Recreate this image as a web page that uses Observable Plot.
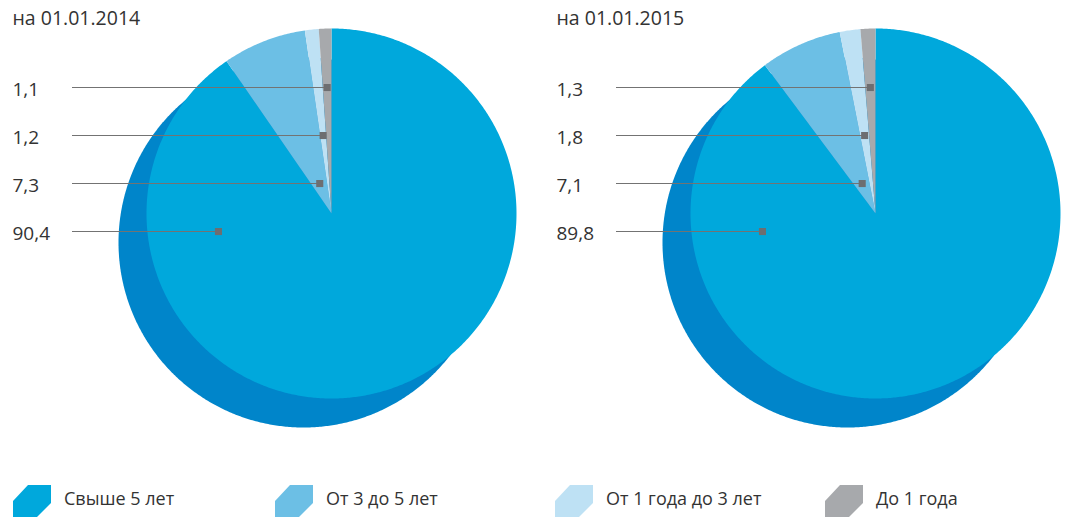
<!DOCTYPE html>
<html><head><meta charset="utf-8">
<script src="https://cdn.jsdelivr.net/npm/d3@7"></script>
<script src="https://cdn.jsdelivr.net/npm/@observablehq/plot@0.6"></script>
<style>
body{margin:0;background:#fff;font-family:"Open Sans",sans-serif;color:#333;}
#wrap{position:relative;width:1067px;height:517px;overflow:hidden;}
#charts{display:flex;align-items:flex-start;}
#charts svg{display:block;overflow:visible;}
.item{position:absolute;top:485px;height:40px;}
.item svg{position:absolute;left:0;top:0;}
.item span{position:absolute;left:51px;top:0px;font-size:18px;line-height:26px;white-space:nowrap;color:#333;}
</style></head><body>
<div id="wrap"><div id="charts"></div><div id="legend"></div></div>
<script>
const categories = ["Свыше 5 лет", "От 3 до 5 лет", "От 1 года до 3 лет", "До 1 года"];
const values2014 = [90.4, 7.3, 1.2, 1.1];
const values2015 = [89.8, 7.1, 1.8, 1.3];
const dates = ["на 01.01.2014", "на 01.01.2015"];
const palette = ["#00a8dc", "#6cbfe5", "#bee1f4", "#a7a9ac"];
const shadowColor = "#0085ca";

// layout constants (pixels / unit radius)
const R = 185, CX = 331, CY = 213;
const rowTop = 0.681, rowStep = 0.2595, lineStart = -1.4, bigMarkerX = -0.611;
const shadowDx = -28 / R, shadowDy = -29 / R;

function buildSlices(values) {
  const total = d3.sum(values);
  let acc = 0;
  const pts = [], labels = [];
  values.forEach((v, i) => {
    const a0 = acc / total * 2 * Math.PI; acc += v;
    const a1 = acc / total * 2 * Math.PI;
    const n = Math.max(2, Math.ceil((a1 - a0) / (Math.PI / 360)));
    pts.push({cat: categories[i], x: 0, y: 0});
    for (let k = 0; k <= n; k++) {
      const a = a0 + (a1 - a0) * k / n;
      pts.push({cat: categories[i], x: Math.sin(a), y: Math.cos(a)});
    }
    pts.push({cat: categories[i], x: 0, y: 0});
    const row = values.length - 1 - i;
    const ry = rowTop - row * rowStep;
    const m = (a0 + a1) / 2;
    const mx = v / total > 0.5 ? bigMarkerX : ry * Math.tan(m);
    labels.push({cat: categories[i], ry, mx, label: v.toFixed(1).replace(".", ",")});
  });
  return {pts, labels};
}

function shadowCircle() {
  const pts = [];
  for (let k = 0; k <= 720; k++) {
    const a = k / 720 * 2 * Math.PI;
    pts.push({x: shadowDx + Math.sin(a), y: shadowDy + Math.cos(a)});
  }
  return pts;
}

function pie(values, date, width) {
  const {pts, labels} = buildSlices(values);
  return Plot.plot({
    width, height: 470, margin: 0,
    style: {fontFamily: "Open Sans, sans-serif", overflow: "visible"},
    x: {domain: [-1, 1], range: [CX - R, CX + R], axis: null},
    y: {domain: [-1, 1], range: [CY + R, CY - R], axis: null},
    color: {domain: categories, range: palette},
    marks: [
      Plot.line(shadowCircle(), {x: "x", y: "y", fill: shadowColor, stroke: "none"}),
      Plot.line(pts, {x: "x", y: "y", z: "cat", fill: "cat", stroke: "none"}),
      Plot.ruleY(labels, {y: "ry", x1: () => lineStart, x2: "mx", stroke: "#737373", strokeWidth: 1.1}),
      Plot.dot(labels, {x: "mx", y: "ry", symbol: "square", r: 4, fill: "#6d6e71", stroke: "none"}),
      Plot.text(labels, {y: "ry", frameAnchor: "left", dx: 12, dy: 2.5, text: "label", textAnchor: "start", fontSize: 19, fill: "#333"}),
      Plot.text([date], {frameAnchor: "top-left", dx: 12, dy: 18, text: d => d, textAnchor: "start", lineAnchor: "middle", fontSize: 19.5, fill: "#333"})
    ]
  });
}

const charts = document.getElementById("charts");
charts.append(pie(values2014, dates[0], 544));
charts.append(pie(values2015, dates[1], 523));

const legendLefts = [13, 275, 555, 825];
const legend = document.getElementById("legend");
categories.forEach((c, i) => {
  const div = document.createElement("div");
  div.className = "item";
  div.style.left = legendLefts[i] + "px";
  div.innerHTML = `<svg width="38" height="34"><polygon points="15,0 38,0 38,18 22,34 0,34 0,16" fill="${palette[i]}"/></svg><span>${c}</span>`;
  legend.append(div);
});
</script>
</body></html>
